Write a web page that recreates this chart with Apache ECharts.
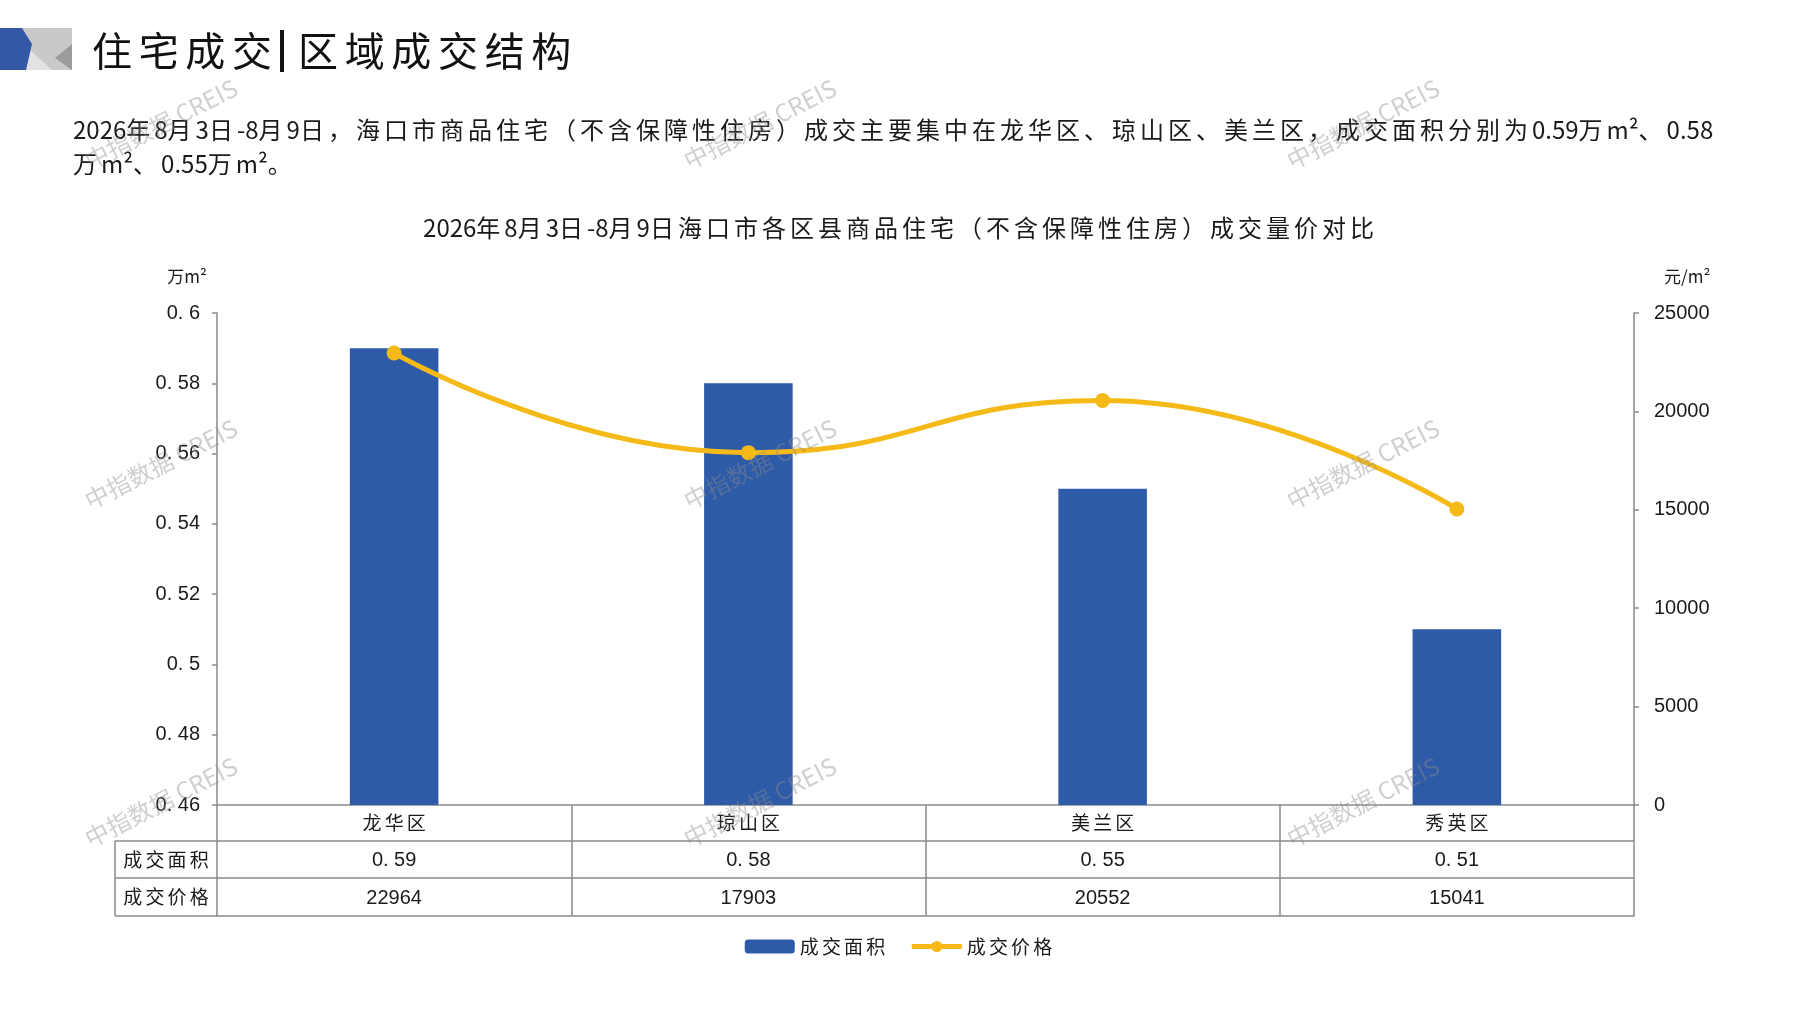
<!DOCTYPE html>
<html>
<head>
<meta charset="utf-8">
<title>住宅成交|区域成交结构</title>
<script src="https://cdn.jsdelivr.net/npm/echarts@6.0.0/dist/echarts.min.js"></script>
<style>
  html, body { margin: 0; padding: 0; background: #fff; }
  #main { width: 1797px; height: 1010px; }
</style>
</head>
<body>
<div id="main"></div>
<script>
// data
const districts = ['龙华区', '琼山区', '美兰区', '秀英区'];
const areaValues = [0.59, 0.58, 0.55, 0.51];       // 万m²
const priceValues = [22964, 17903, 20552, 15041];  // 元/m²
const rowHeaders = ['成交面积', '成交价格'];
const seriesNames = ['成交面积', '成交价格'];
const headTitle = ['住宅成交', '区域成交结构'];
const summaryText = '2026年8月3日-8月9日，海口市商品住宅（不含保障性住房）成交主要集中在龙华区、琼山区、美兰区，成交面积分别为0.59万m²、0.58\n万m²、0.55万m²。';
const chartTitle = '2026年8月3日-8月9日海口市各区县商品住宅（不含保障性住房）成交量价对比';
const watermark = '中指数据 CREIS';

const CJK = '"Noto Sans CJK SC", "Liberation Sans", sans-serif';
const NUM = '"Liberation Sans", "Noto Sans CJK SC", sans-serif';
const BLUE = '#2E5BA8';
const GOLD = '#F5BA17';
const LINE = '#8a8a8a';
const INK = '#1a1a1a';

// the source font sets CJK characters loosely, imitate with six-per-em spaces
const sp = s => s.replace(/([\u2E80-\u9FFF\u3000-\u303F\uFF00-\uFFEF])/g, '$1\u2006').replace(/\u2006$/, '').replace(/\u2006\n/g, '\n');
// "0. 58" style decimals
const dec = v => String(parseFloat(Number(v).toFixed(2))).replace('.', '. ');

const chart = echarts.init(document.getElementById('main'));

const gridLeft = 217, gridRight = 163, gridTop = 313, gridBottom = 205;
const axisY = 1010 - gridBottom;
const rowOff = [36, 73, 111];

function tableAxis(data, offset, tickLen, margin, fmt) {
  return {
    type: 'category',
    data: data,
    position: 'bottom',
    offset: offset,
    axisLine: { show: true, lineStyle: { color: LINE, width: 1.5 } },
    axisTick: { show: tickLen > 0, length: tickLen, interval: 0, lineStyle: { color: LINE, width: 1.5 } },
    axisLabel: {
      show: !!fmt, interval: 0, margin: margin,
      color: INK, fontSize: fmt === 'cjk' ? 19 : 20, fontFamily: fmt === 'cjk' ? CJK : NUM,
      formatter: v => fmt === 'cjk' ? sp(v) : (fmt === 'dec' ? dec(v) : v)
    },
    splitLine: { show: false }
  };
}

const graphics = [];
// header icon
graphics.push(
  { type: 'rect', shape: { x: 20, y: 28, width: 52, height: 42 }, style: { fill: '#c9c9c9' } },
  { type: 'polygon', shape: { points: [[26, 46], [52, 70], [24, 70]] }, style: { fill: '#e2e2e2' } },
  { type: 'polygon', shape: { points: [[72, 44], [55, 58], [72, 70]] }, style: { fill: '#9b9b9b' } },
  { type: 'polygon', shape: { points: [[0, 28], [22, 28], [32, 44], [26, 70], [0, 70]] }, style: { fill: '#3457A6' } }
);
// header title
graphics.push(
  { type: 'text', x: 92, y: 51, style: { text: sp(headTitle[0]), font: '40px ' + CJK, fill: '#111', textVerticalAlign: 'middle' } },
  { type: 'rect', shape: { x: 280, y: 30, width: 4, height: 42 }, style: { fill: '#111' } },
  { type: 'text', x: 298, y: 51, style: { text: sp(headTitle[1]), font: '40px ' + CJK, fill: '#111', textVerticalAlign: 'middle' } }
);
// summary paragraph
graphics.push({
  type: 'text', x: 73, y: 113,
  style: { text: sp(summaryText), font: '24px ' + CJK, fill: INK, lineHeight: 34 }
});
// left part of the data table
const rowTops = [axisY + rowOff[0], axisY + rowOff[1], axisY + rowOff[2]];
rowTops.forEach(y => {
  graphics.push({ type: 'line', shape: { x1: 115, y1: y, x2: gridLeft, y2: y }, style: { stroke: LINE, lineWidth: 1.5 } });
});
graphics.push({ type: 'line', shape: { x1: 115, y1: rowTops[0], x2: 115, y2: rowTops[2] }, style: { stroke: LINE, lineWidth: 1.5 } });
rowHeaders.forEach((t, i) => {
  graphics.push({
    type: 'text', x: 166, y: (rowTops[i] + rowTops[i + 1]) / 2,
    style: { text: sp(t), font: '19px ' + CJK, fill: INK, textAlign: 'center', textVerticalAlign: 'middle' }
  });
});
// watermarks
[161, 760, 1363].forEach(cx => {
  [124, 464, 802].forEach(cy => {
    graphics.push({
      type: 'text', x: cx, y: cy, rotation: 27 * Math.PI / 180, z: 100,
      style: { text: watermark, font: '24px ' + CJK, fill: 'rgba(140,140,140,0.42)', textAlign: 'center', textVerticalAlign: 'middle' }
    });
  });
});

chart.setOption({
  backgroundColor: '#fff',
  animation: false,
  title: {
    text: sp(chartTitle),
    left: 'center',
    top: 211,
    textStyle: { fontSize: 24, fontWeight: 'normal', color: INK, fontFamily: CJK }
  },
  legend: {
    data: seriesNames,
    left: 'center',
    top: 932,
    itemWidth: 50,
    itemHeight: 14,
    itemGap: 24,
    formatter: n => sp(n),
    lineStyle: { width: 5 },
    textStyle: { fontSize: 19, color: INK, fontFamily: CJK }
  },
  grid: {
    left: gridLeft, right: gridRight, top: gridTop, bottom: gridBottom,
    containLabel: false, outerBoundsMode: 'none'
  },
  xAxis: [
    tableAxis(districts, 0, rowOff[0], 8, 'cjk'),
    tableAxis(areaValues, rowOff[0], rowOff[1] - rowOff[0], 9, 'dec'),
    tableAxis(priceValues, rowOff[1], rowOff[2] - rowOff[1], 10, 'num'),
    tableAxis(districts, rowOff[2], 0, 8, null)
  ],
  yAxis: [
    {
      type: 'value', min: 0.46, max: 0.6, interval: 0.02,
      name: '万m²', nameLocation: 'end', nameGap: 28,
      nameTextStyle: { fontSize: 17, color: INK, fontFamily: CJK, align: 'right', padding: [0, 10, 0, 0] },
      axisLine: { show: true, lineStyle: { color: LINE, width: 1.5 } },
      axisTick: { show: true, length: 5, lineStyle: { color: LINE, width: 1.5 } },
      axisLabel: { margin: 17, fontSize: 20, color: INK, fontFamily: NUM, formatter: v => dec(v) },
      splitLine: { show: false }
    },
    {
      type: 'value', min: 0, max: 25000, interval: 5000,
      name: '元/m²', nameLocation: 'end', nameGap: 28,
      nameTextStyle: { fontSize: 17, color: INK, fontFamily: CJK, align: 'left', padding: [0, 0, 0, 30] },
      axisLine: { show: true, lineStyle: { color: LINE, width: 1.5 } },
      axisTick: { show: true, length: 5, lineStyle: { color: LINE, width: 1.5 } },
      axisLabel: { margin: 20, fontSize: 20, color: INK, fontFamily: NUM, formatter: v => String(v) },
      splitLine: { show: false }
    }
  ],
  series: [
    {
      name: seriesNames[0],
      type: 'bar',
      xAxisIndex: 0,
      yAxisIndex: 0,
      barWidth: '25%',
      itemStyle: { color: BLUE },
      data: areaValues
    },
    {
      name: seriesNames[1],
      type: 'line',
      xAxisIndex: 0,
      yAxisIndex: 1,
      smooth: 0.5,
      symbol: 'circle',
      symbolSize: 15,
      lineStyle: { color: GOLD, width: 5 },
      itemStyle: { color: GOLD },
      data: priceValues
    }
  ],
  graphic: graphics
});
</script>
</body>
</html>
